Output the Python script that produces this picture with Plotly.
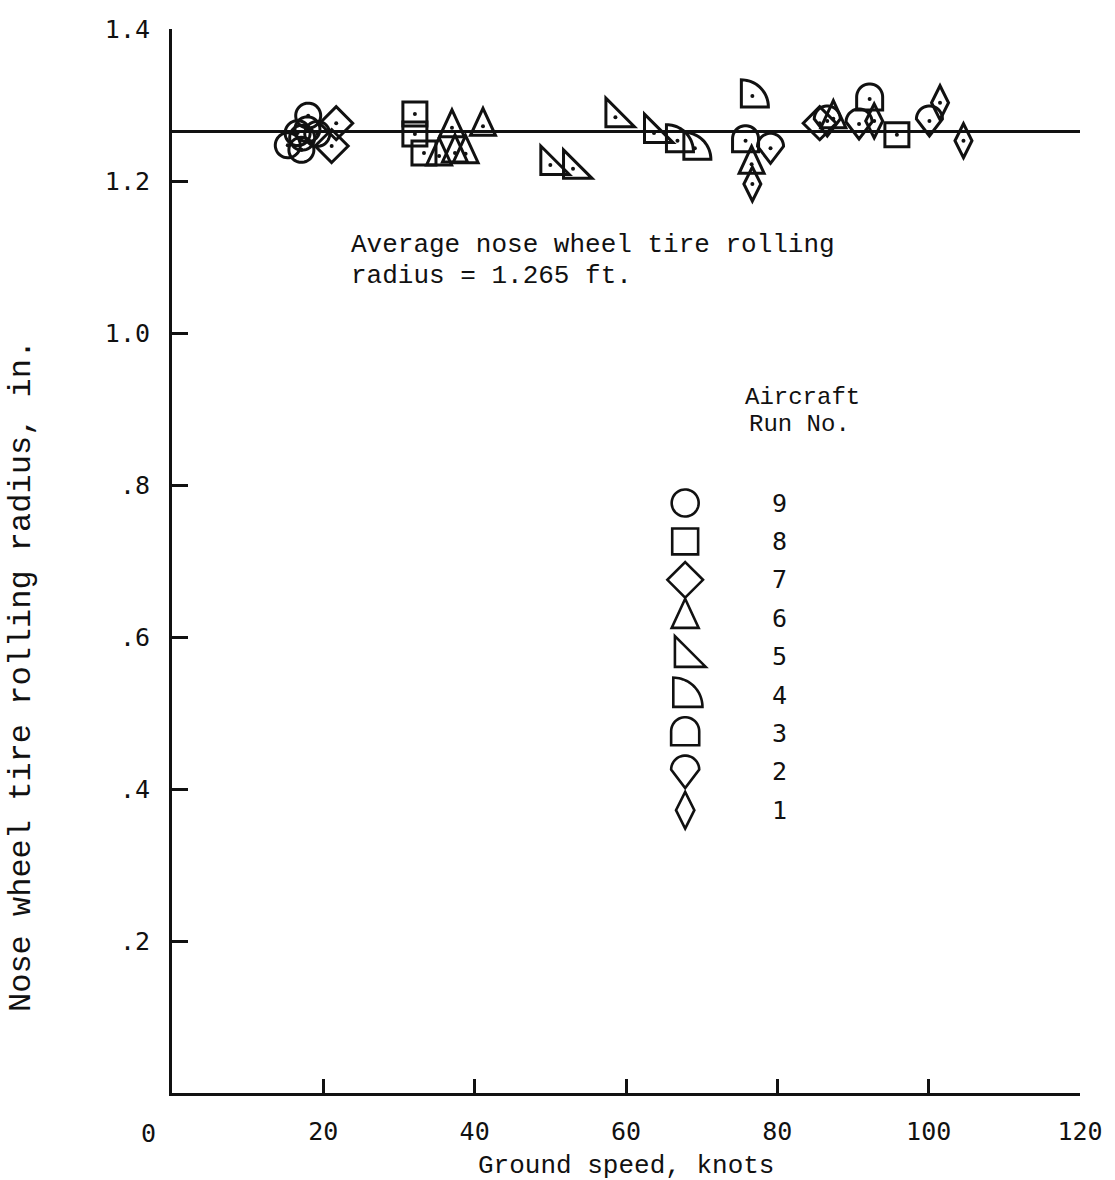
import numpy as np
import plotly.graph_objects as go

# Ground speed (knots) and nose wheel tire rolling radius for each aircraft run
run9_speed = [15.3, 17.1, 16.6, 17.9, 17.2, 18.0, 19.2]
run9_radius = [1.247, 1.241, 1.263, 1.268, 1.257, 1.286, 1.262]
run8_speed = [32.1, 32.1, 33.3, 95.8]
run8_radius = [1.288, 1.262, 1.237, 1.261]
run7_speed = [21.7, 21.1, 85.6]
run7_radius = [1.276, 1.246, 1.276]
run6_speed = [37.0, 41.1, 35.3, 37.4, 38.8, 87.4, 76.6]
run6_radius = [1.270, 1.272, 1.233, 1.237, 1.236, 1.282, 1.222]
run5_speed = [50.0, 53.0, 58.6, 63.7]
run5_radius = [1.221, 1.216, 1.284, 1.263]
run4_speed = [66.8, 69.1, 76.7]
run4_radius = [1.253, 1.243, 1.312]
run3_speed = [75.8, 92.2]
run3_radius = [1.253, 1.308]
run2_speed = [79.1, 86.6, 90.8, 100.1]
run2_radius = [1.243, 1.279, 1.275, 1.279]
run1_speed = [76.7, 92.8, 101.5, 104.6]
run1_radius = [1.196, 1.279, 1.303, 1.253]

average_radius = 1.265
run_numbers = ["9", "8", "7", "6", "5", "4", "3", "2", "1"]
x_ticks = [20, 40, 60, 80, 100, 120]
y_ticks = [0.2, 0.4, 0.6, 0.8, 1.0, 1.2, 1.4]
y_tick_text = [".2", ".4", ".6", ".8", "1.0", "1.2", "1.4"]

runs = [
    ("9", "circle", run9_speed, run9_radius),
    ("8", "square", run8_speed, run8_radius),
    ("7", "diamond", run7_speed, run7_radius),
    ("6", "triangle", run6_speed, run6_radius),
    ("5", "righttri", run5_speed, run5_radius),
    ("4", "quarter", run4_speed, run4_radius),
    ("3", "dome", run3_speed, run3_radius),
    ("2", "drop", run2_speed, run2_radius),
    ("1", "thin", run1_speed, run1_radius),
]

TYPE = "Liberation Mono, Courier New, monospace"
LETTER = "DejaVu Sans Mono, monospace"
INK = "#111111"


def arc(cx, cy, r, a0, a1, n=24):
    t = np.linspace(np.radians(a0), np.radians(a1), n)
    return [(cx + r * np.cos(a), cy + r * np.sin(a)) for a in t]


def symbol_points(kind, k=1.0):
    """Outline of a plotting symbol in pixels (y up), centred on its point."""
    if kind == "circle":
        pts = arc(0, 0, 12.5, 0, 360, 48)
    elif kind == "square":
        pts = [(-12, -12), (12, -12), (12, 12), (-12, 12)]
    elif kind == "diamond":
        pts = [(0, -16.5), (16.5, 0), (0, 16.5), (-16.5, 0)]
    elif kind == "triangle":
        pts = [(-12.5, -9), (12.5, -9), (0, 18)]
    elif kind == "righttri":
        pts = [(-9.5, -9.5), (19, -9.5), (-9.5, 19)]
    elif kind == "quarter":
        pts = [(-11, -11)] + arc(-11, -11, 27, 0, 90, 24)
    elif kind == "dome":
        pts = [(-13, -11), (13, -11)] + arc(0, 2, 13, 0, 180, 24)
    elif kind == "drop":
        pts = arc(0, 2, 13, 0, 180, 24) + [(0, -15)]
    else:  # thin diamond
        pts = [(0, -17), (8.5, 0), (0, 17), (-8.5, 0)]
    return [(x * k, y * k) for x, y in pts]


def symbol_path(kind, k=1.0):
    pts = symbol_points(kind, k)
    return "M" + " L".join(f"{x:.2f},{y:.2f}" for x, y in pts) + " Z"


fig = go.Figure()
shapes = []

# average rolling radius line
fig.add_trace(go.Scatter(
    x=[0, 120], y=[average_radius, average_radius], mode="lines",
    line=dict(color=INK, width=3), hoverinfo="skip", showlegend=False,
))

for run, kind, speed, radius in runs:
    path = symbol_path(kind)
    for xv, yv in zip(speed, radius):
        shapes.append(dict(
            type="path", xref="x", yref="y", xsizemode="pixel", ysizemode="pixel",
            xanchor=xv, yanchor=yv, path=path, layer="above",
            line=dict(color=INK, width=3), fillcolor="rgba(0,0,0,0)",
        ))
    fig.add_trace(go.Scatter(
        x=speed, y=radius, mode="markers", name=f"Run {run}",
        marker=dict(symbol="circle", size=4, color=INK),
        showlegend=False,
    ))

# key of symbols and run numbers
key_x_sym = (688 - 172) / 913
key_x_num = (783 - 172) / 913
key_top_px = 503
key_step_px = 38.4
for i, (run, kind, _, _) in enumerate(runs):
    yp = (1093 - (key_top_px + i * key_step_px)) / 1064
    shapes.append(dict(
        type="path", xref="paper", yref="paper", xsizemode="pixel", ysizemode="pixel",
        xanchor=key_x_sym, yanchor=yp, path=symbol_path(kind, 1.08), layer="above",
        line=dict(color=INK, width=2.6), fillcolor="rgba(0,0,0,0)",
    ))

annotations = []
for i, run in enumerate(run_numbers):
    yp = (1093 - (key_top_px + i * key_step_px)) / 1064
    annotations.append(dict(
        x=key_x_num, y=yp, xref="paper", yref="paper", text=run, showarrow=False,
        xanchor="center", yanchor="middle", font=dict(family=LETTER, size=25, color=INK),
    ))

annotations += [
    dict(x=(806 - 172) / 913, y=(1093 - 397) / 1064, xref="paper", yref="paper",
         text="Aircraft", showarrow=False, xanchor="center", yanchor="middle",
         font=dict(family=TYPE, size=24, color=INK)),
    dict(x=(803 - 172) / 913, y=(1093 - 425) / 1064, xref="paper", yref="paper",
         text="Run No.", showarrow=False, xanchor="center", yanchor="middle",
         font=dict(family=TYPE, size=24, color=INK)),
    dict(x=(350 - 172) / 913, y=(1093 - 245) / 1064, xref="paper", yref="paper",
         text="Average nose wheel tire rolling", showarrow=False, xanchor="left",
         yanchor="middle", font=dict(family=TYPE, size=26, color=INK)),
    dict(x=(350 - 172) / 913, y=(1093 - 276) / 1064, xref="paper", yref="paper",
         text="radius = 1.265 ft.", showarrow=False, xanchor="left",
         yanchor="middle", font=dict(family=TYPE, size=26, color=INK)),
    dict(x=0, y=0, xref="paper", yref="paper", text="0", showarrow=False,
         xanchor="center", yanchor="middle", xshift=-24, yshift=-40,
         font=dict(family=LETTER, size=25, color=INK)),
    dict(x=0.5, y=0, xref="paper", yref="paper", text="Ground speed, knots",
         showarrow=False, xanchor="center", yanchor="middle", yshift=-73,
         font=dict(family=TYPE, size=26, color=INK)),
    dict(x=0, y=(1093 - 676) / 1064, xref="paper", yref="paper",
         text="Nose wheel tire rolling radius, in.",
         showarrow=False, xanchor="center", yanchor="middle", xshift=-150, textangle=-90,
         font=dict(family=TYPE, size=32, color=INK)),
]

fig.update_layout(
    width=1115, height=1180,
    margin=dict(l=172, r=30, t=29, b=87, pad=0),
    paper_bgcolor="white", plot_bgcolor="white",
    shapes=shapes, annotations=annotations,
    showlegend=False,
)
fig.update_xaxes(
    range=[0, 120], tickvals=x_ticks, ticks="inside", ticklen=14, tickwidth=2.5,
    tickcolor=INK, showline=True, linecolor=INK, linewidth=3, showgrid=False,
    zeroline=False, ticklabelstandoff=14, tickfont=dict(family=LETTER, size=25, color=INK),
)
fig.update_yaxes(
    range=[0, 1.4], tickvals=y_ticks, ticktext=y_tick_text, ticks="inside", ticklen=16,
    tickwidth=2.5, tickcolor=INK, showline=True, linecolor=INK, linewidth=3,
    showgrid=False, zeroline=False, ticklabelstandoff=14,
    tickfont=dict(family=LETTER, size=25, color=INK),
)

fig.write_html("out.html")
